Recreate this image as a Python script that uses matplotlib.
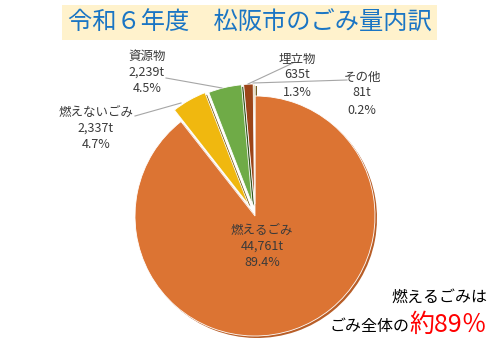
import matplotlib
matplotlib.use("Agg")
import matplotlib.pyplot as plt
from matplotlib.patches import Rectangle

plt.rcParams["font.family"] = ["Noto Sans CJK JP", "DejaVu Sans"]

categories = ["燃えるごみ", "燃えないごみ", "資源物", "埋立物", "その他"]
tons = [44761, 2337, 2239, 635, 81]
percents = [89.4, 4.7, 4.5, 1.3, 0.2]
colors = ["#DC7433", "#F0B80F", "#6FAB47", "#9C4519", "#CDA83A"]
shadow_colors = ["#B85E28", "#6E5205", "#34561F", "#4E220B", "#6A5515"]
explode = [0, 0.11, 0.1, 0.1, 0.1]

H = 350


def Y(py):
    # pixel row -> data y
    return H - py


fig = plt.figure(figsize=(5, 3.5), dpi=100)
ax = fig.add_axes([0, 0, 1, 1])

cx, cy, r = 255, Y(216), 120
offsets = [e * r for e in explode]  # pie() takes the offset in data units

# dark copy underneath gives the slices a raised look
ax.pie(tons, colors=shadow_colors, explode=offsets, startangle=90,
       counterclock=False, center=(cx + 2, cy - 2), radius=r,
       wedgeprops=dict(linewidth=0))
ax.pie(tons, colors=colors, explode=offsets, startangle=90,
       counterclock=False, center=(cx, cy), radius=r,
       wedgeprops=dict(linewidth=0.6, edgecolor="white"))

ax.set_xlim(0, 500)
ax.set_ylim(0, H)
ax.set_aspect("auto")
ax.axis("off")

# title
ax.add_patch(Rectangle((62, Y(40)), 375, 35, facecolor="#FFF2CC",
                       edgecolor="none", zorder=0))
ax.text(250, Y(23), "令和６年度　松阪市のごみ量内訳", fontsize=17.5,
        color="#1A75C4", ha="center", va="center")

# slice labels
label_pos = [(262, 230), (96, 112), (147, 56), (297, 59), (362, 77)]
lead_lines = [None,
              ((135, 116), (181, 103)),
              ((166, 78), (222, 88)),
              ((293, 63), (248, 84)),
              ((347, 80), (253, 83))]
txt = "#3A3A3A"
for name, t, p, (lx, ly), ln in zip(categories, tons, percents,
                                    label_pos, lead_lines):
    ax.text(lx, Y(ly), name, fontsize=9, color=txt, ha="center", va="center")
    ax.text(lx, Y(ly + 16), f"{t:,}t", fontsize=9, color=txt,
            ha="center", va="center")
    ax.text(lx, Y(ly + 33), f"{p}%", fontsize=9, color=txt,
            ha="center", va="center")
    if ln is not None:
        (x0, y0), (x1, y1) = ln
        ax.plot([x0, x1], [Y(y0), Y(y1)], color="#A6A6A6", lw=0.8)

# note in the corner
ax.text(487, Y(297), "燃えるごみは", fontsize=11.5, color="black",
        ha="right", va="center")
red = ax.text(487, Y(325), "約89％", fontsize=18, color="#FF0000",
              ha="right", va="center")
fig.canvas.draw()
bb = red.get_window_extent()
x_left = ax.transData.inverted().transform((bb.x0, bb.y0))[0]
ax.text(x_left, Y(326), "ごみ全体の", fontsize=11.5, color="black",
        ha="right", va="center")

fig.savefig("out.png", dpi=100)
